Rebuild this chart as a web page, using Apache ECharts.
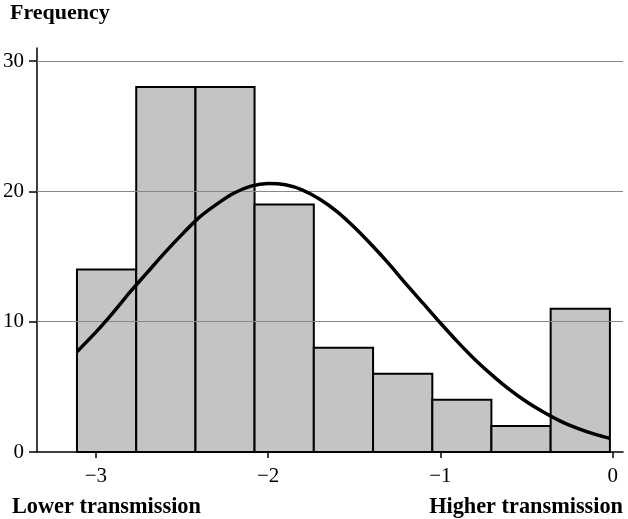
<!DOCTYPE html>
<html><head><meta charset="utf-8">
<script src="https://cdn.jsdelivr.net/npm/echarts@6/dist/echarts.min.js"></script>
<style>html,body{margin:0;padding:0;background:#fff}#c{width:628px;height:519px}</style>
</head><body><div id="c"></div>
<script>
// Histogram bins (left edges, right edges) and counts
const binLeft  = [-3.11, -2.766, -2.422, -2.079, -1.735, -1.391, -1.047, -0.704, -0.360];
const binRight = [-2.766, -2.422, -2.079, -1.735, -1.391, -1.047, -0.704, -0.360, -0.016];
const counts   = [14, 28, 28, 19, 8, 6, 4, 2, 11];
// Fitted curve
const curveX = [-3.11, -3.0, -2.9, -2.8, -2.7, -2.6, -2.5, -2.4, -2.3, -2.2, -2.1, -2.0, -1.9, -1.8, -1.7, -1.6, -1.5, -1.4, -1.3, -1.2, -1.1, -1.0, -0.9, -0.8, -0.7, -0.6, -0.5, -0.4, -0.3, -0.2, -0.1, -0.017];
const curveY = [7.7, 9.2, 10.7, 12.3, 13.8, 15.3, 16.7, 18.0, 19.0, 19.85, 20.4, 20.6, 20.5, 20.1, 19.4, 18.45, 17.25, 15.9, 14.45, 12.9, 11.4, 9.9, 8.45, 7.1, 5.9, 4.8, 3.85, 3.05, 2.35, 1.8, 1.35, 1.05];
const xTicks = [-3, -2, -1, 0];
const yTicks = [0, 10, 20, 30];
const gridValues = [10, 20, 30];

const font = '"Liberation Serif", "DejaVu Serif", serif';
const chart = echarts.init(document.getElementById('c'), null, {renderer: 'canvas'});
const bars = binLeft.map((l, i) => [l, binRight[i], counts[i]]);
chart.setOption({
  animation: false,
  backgroundColor: '#fff',
  grid: {left: 36, right: 5, top: 48, bottom: 67, containLabel: false},
  xAxis: {
    type: 'value', min: -3.342, max: 0.06,
    axisLine: {show: true, onZero: false, lineStyle: {color: '#000', width: 1.5}},
    axisTick: {show: true, customValues: xTicks, length: 6, lineStyle: {color: '#000', width: 1.5}},
    axisLabel: {customValues: xTicks, margin: 14, color: '#000', fontFamily: font, fontSize: 21,
      formatter: v => (v < 0 ? '\u2212' + Math.abs(v) : String(v))},
    splitLine: {show: false}
  },
  yAxis: {
    type: 'value', min: 0, max: 31,
    axisLine: {show: true, onZero: false, lineStyle: {color: '#000', width: 1.5}},
    axisTick: {show: true, customValues: yTicks, length: 8, lineStyle: {color: '#000', width: 1.5}},
    axisLabel: {customValues: yTicks, margin: 13, color: '#000', fontFamily: font, fontSize: 21, padding: [4, 0, 0, 0]},
    splitLine: {show: false}
  },
  graphic: [
    {type: 'text', left: 10, top: 2, style: {text: 'Frequency', fontFamily: font, fontWeight: 'bold', fontSize: 22, fill: '#000'}},
    {type: 'text', left: 12, top: 496, style: {text: 'Lower transmission', fontFamily: font, fontWeight: 'bold', fontSize: 22.3, fill: '#000'}},
    {type: 'text', right: 5, top: 496, style: {text: 'Higher transmission', fontFamily: font, fontWeight: 'bold', fontSize: 22.3, fill: '#000'}}
  ],
  series: [
    {
      type: 'line', data: [], silent: true,
      markLine: {silent: true, symbol: 'none', label: {show: false},
        lineStyle: {color: '#888', width: 1, type: 'solid'},
        data: gridValues.map(v => ({yAxis: v}))}
    },
    {
      type: 'custom', data: bars, silent: true,
      renderItem: (params, api) => {
        const p0 = api.coord([api.value(0), 0]);
        const p1 = api.coord([api.value(1), api.value(2)]);
        return {type: 'rect', shape: {x: p0[0], y: p1[1], width: p1[0] - p0[0], height: p0[1] - p1[1]},
          style: {fill: '#c4c4c4', stroke: '#000', lineWidth: 2}};
      },
      encode: {x: [0, 1], y: 2}
    },
    {
      type: 'line', smooth: 0.3, symbol: 'none', silent: true,
      data: curveX.map((x, i) => [x, curveY[i]]),
      lineStyle: {color: '#000', width: 3.5}, z: 5
    }
  ]
});
</script></body></html>
